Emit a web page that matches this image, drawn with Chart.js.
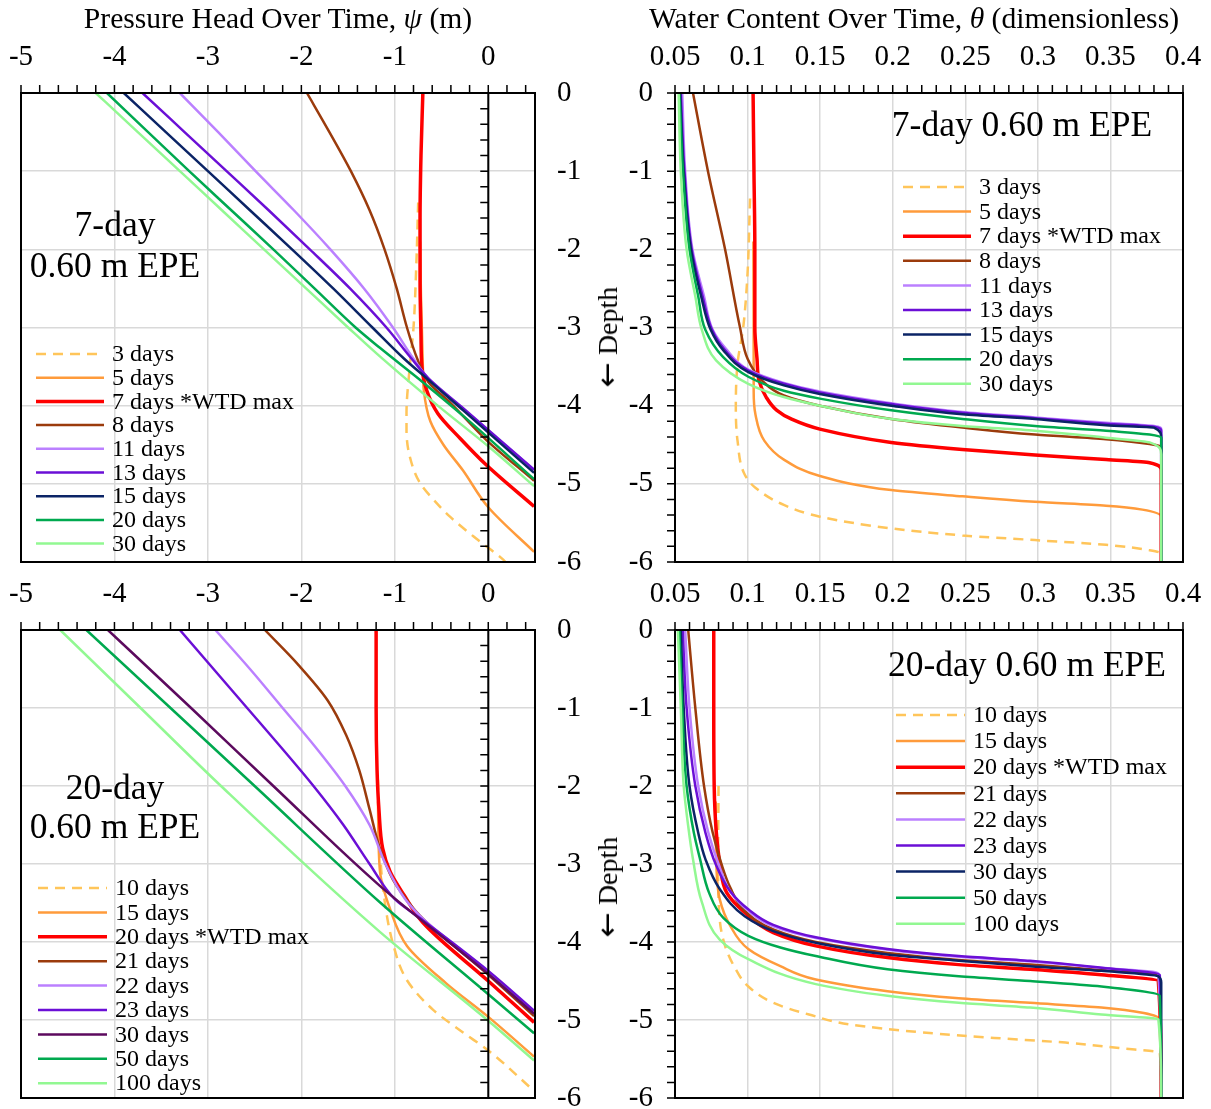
<!DOCTYPE html>
<html>
<head>
<meta charset="utf-8">
<script src="https://cdn.jsdelivr.net/npm/chart.js@4.4.1/dist/chart.umd.min.js"></script>
<style>
  body { margin: 0; background: #fff; }
  #page { position: relative; width: 1211px; height: 1109px; overflow: hidden;
          font-family: "Liberation Serif", "Times New Roman", serif; color: #000; }
  canvas { position: absolute; }
  .t { position: absolute; white-space: nowrap; line-height: 1; transform: translate(-50%, -50%); }
  .ttl { font-size: 29.6px; }
  .note { font-size: 35.5px; }
  .depth { font-size: 28px; transform: translate(-50%, -50%) rotate(-90deg); }
  .arrow { font-family: "DejaVu Sans", sans-serif; font-size: 30px; }
</style>
</head>
<body>
<div id="page">
  <canvas id="headTop" width="600" height="585" style="left:0;top:0"></canvas>
  <canvas id="waterTop" width="611" height="585" style="left:600px;top:0"></canvas>
  <canvas id="headBot" width="600" height="556" style="left:0;top:565px"></canvas>
  <canvas id="waterBot" width="611" height="556" style="left:600px;top:565px"></canvas>

  <div class="t ttl" style="left:278px;top:19px">Pressure Head Over Time, <i>ψ</i> (m)</div>
  <div class="t ttl" style="left:914px;top:19px">Water Content Over Time, <i>θ</i> (dimensionless)</div>
  <div class="t depth" style="left:607px;top:337px"><span class="arrow">←</span> Depth</div>
  <div class="t depth" style="left:607px;top:887px"><span class="arrow">←</span> Depth</div>
  <div class="t note" style="left:115px;top:225px">7-day</div>
  <div class="t note" style="left:115px;top:266px">0.60 m EPE</div>
  <div class="t note" style="left:1022px;top:125px">7-day 0.60 m EPE</div>
  <div class="t note" style="left:115px;top:788px">20-day</div>
  <div class="t note" style="left:115px;top:827px">0.60 m EPE</div>
  <div class="t note" style="left:1027px;top:665px">20-day 0.60 m EPE</div>
</div>
<script>
const serif = '"Liberation Serif", "Times New Roman", serif';

// ---- 7-day event: series names and colours ----
const labels7 = ['3 days', '5 days', '7 days *WTD max', '8 days', '11 days', '13 days', '15 days', '20 days', '30 days'];
const colors7 = ['#ffc55a', '#ff9b3b', '#ff0000', '#9b3b0c', '#bb80ff', '#6b0fd6', '#0b2466', '#00a94f', '#92f892'];

// pressure head profiles, [psi (m), depth (m)]
const head7_3 = [[-0.75,-1.4],[-0.77,-2.2],[-0.80,-3.0],[-0.84,-3.5],[-0.875,-4.1],[-0.875,-4.31],[-0.84,-4.65],[-0.73,-4.99],[-0.55,-5.25],[-0.41,-5.42],[-0.13,-5.70],[0.16,-5.97],[0.2,-6.02]];
const head7_5 = [[-0.73,-1.9],[-0.72,-2.6],[-0.71,-3.03],[-0.70,-3.5],[-0.69,-3.8],[-0.62,-4.2],[-0.48,-4.5],[-0.27,-4.83],[0,-5.3],[0.49,-5.87]];
const head7_7 = [[-0.70,0],[-0.72,-0.8],[-0.73,-1.6],[-0.73,-2.4],[-0.72,-3.1],[-0.71,-3.5],[-0.66,-3.8],[-0.54,-4.1],[-0.30,-4.42],[-0.02,-4.76],[0.49,-5.29]];
const head7_8 = [[-1.94,0],[-1.70,-0.5],[-1.47,-1.0],[-1.27,-1.5],[-1.11,-2.0],[-0.98,-2.5],[-0.87,-3.0],[-0.76,-3.4],[-0.64,-3.7],[-0.40,-3.97],[-0.02,-4.44],[0.49,-4.96]];
const head7_11 = [[-3.30,0],[-2.89,-0.5],[-2.49,-1.0],[-2.08,-1.5],[-1.69,-2.0],[-1.33,-2.5],[-1.02,-3.0],[-0.80,-3.4],[-0.62,-3.68],[-0.25,-4.07],[0.49,-4.82]];
const head7_13 = [[-3.70,0],[-3.25,-0.5],[-2.80,-1.0],[-2.35,-1.5],[-1.91,-2.0],[-1.48,-2.5],[-1.09,-3.0],[-0.82,-3.4],[-0.64,-3.65],[-0.25,-4.05],[0.49,-4.82]];
const head7_15 = [[-3.90,0],[-3.45,-0.5],[-3.00,-1.0],[-2.55,-1.5],[-2.10,-2.0],[-1.66,-2.5],[-1.24,-3.0],[-0.90,-3.4],[-0.65,-3.66],[-0.25,-4.08],[0.49,-4.86]];
const head7_20 = [[-4.08,0],[-3.64,-0.5],[-3.20,-1.0],[-2.75,-1.5],[-2.30,-2.0],[-1.86,-2.5],[-1.42,-3.0],[-1.16,-3.26],[-0.70,-3.70],[-0.25,-4.15],[0.49,-4.94]];
const head7_30 = [[-4.20,0],[-3.75,-0.5],[-3.30,-1.0],[-2.85,-1.5],[-2.40,-2.0],[-1.95,-2.5],[-1.50,-3.0],[-1.16,-3.37],[-0.55,-3.99],[0,-4.52],[0.49,-5.03]];

// water content profiles, [theta, depth (m)]
const water7_3 = [[0.1017,-1.35],[0.100,-2.3],[0.097,-3.0],[0.0931,-3.46],[0.0919,-4.02],[0.0931,-4.45],[0.098,-4.88],[0.1054,-5.05],[0.125,-5.27],[0.1498,-5.42],[0.199,-5.57],[0.248,-5.66],[0.298,-5.72],[0.347,-5.78],[0.377,-5.85],[0.385,-5.89],[0.385,-6]];
const water7_5 = [[0.104,-1.9],[0.1042,-3.0],[0.1042,-3.81],[0.1054,-4.11],[0.1116,-4.45],[0.125,-4.69],[0.1498,-4.90],[0.199,-5.08],[0.248,-5.16],[0.298,-5.23],[0.347,-5.28],[0.372,-5.33],[0.385,-5.42],[0.385,-6]];
const water7_7 = [[0.1038,0],[0.1044,-1],[0.105,-2],[0.105,-3],[0.1065,-3.4],[0.1079,-3.68],[0.1128,-3.89],[0.1202,-4.06],[0.130,-4.17],[0.1498,-4.30],[0.199,-4.47],[0.248,-4.56],[0.298,-4.63],[0.347,-4.69],[0.377,-4.73],[0.385,-4.83],[0.385,-6]];
const water7_8 = [[0.0624,0],[0.0727,-1],[0.0845,-2],[0.0948,-3],[0.100,-3.4],[0.110,-3.68],[0.125,-3.87],[0.1498,-4.0],[0.199,-4.17],[0.248,-4.28],[0.298,-4.37],[0.347,-4.43],[0.377,-4.49],[0.385,-4.52],[0.385,-6]];
const water7_11 = [[0.055,0],[0.057,-1],[0.062,-2],[0.070,-2.6],[0.076,-3.03],[0.085,-3.27],[0.1005,-3.54],[0.125,-3.71],[0.1498,-3.82],[0.199,-3.97],[0.248,-4.08],[0.298,-4.15],[0.347,-4.22],[0.380,-4.26],[0.385,-4.3],[0.385,-6]];
const water7_13 = [[0.054,0],[0.0565,-1],[0.0615,-2],[0.069,-2.6],[0.0755,-3.03],[0.084,-3.28],[0.1005,-3.55],[0.125,-3.72],[0.1498,-3.83],[0.199,-3.98],[0.248,-4.09],[0.298,-4.16],[0.347,-4.23],[0.380,-4.27],[0.385,-4.32],[0.385,-6]];
const water7_15 = [[0.0535,0],[0.056,-1],[0.061,-2],[0.068,-2.6],[0.0746,-3.03],[0.0832,-3.29],[0.1005,-3.57],[0.125,-3.74],[0.1498,-3.85],[0.199,-4.0],[0.248,-4.11],[0.298,-4.17],[0.347,-4.25],[0.380,-4.28],[0.385,-4.41],[0.385,-6]];
const water7_20 = [[0.053,0],[0.0555,-1],[0.060,-2],[0.066,-2.6],[0.0709,-3.03],[0.0832,-3.38],[0.1005,-3.63],[0.125,-3.81],[0.1498,-3.91],[0.199,-4.06],[0.248,-4.17],[0.298,-4.26],[0.347,-4.32],[0.377,-4.37],[0.385,-4.41],[0.385,-6]];
const water7_30 = [[0.0525,0],[0.054,-1],[0.058,-2],[0.064,-2.6],[0.0685,-3.03],[0.0783,-3.42],[0.1005,-3.72],[0.125,-3.89],[0.1498,-4.0],[0.199,-4.17],[0.248,-4.26],[0.298,-4.32],[0.347,-4.41],[0.377,-4.47],[0.385,-4.62],[0.385,-6]];

// ---- 20-day event ----
const labels20 = ['10 days', '15 days', '20 days *WTD max', '21 days', '22 days', '23 days', '30 days', '50 days', '100 days'];
const colorsHead20 = ['#ffc55a', '#ff9b3b', '#ff0000', '#9b3b0c', '#bb80ff', '#6b0fd6', '#5c0a5e', '#00a94f', '#92f892'];
const colorsWater20 = ['#ffc55a', '#ff9b3b', '#ff0000', '#9b3b0c', '#bb80ff', '#6b0fd6', '#0b2466', '#00a94f', '#92f892'];

const head20_10 = [[-1.18,-1.92],[-1.17,-2.5],[-1.15,-3.0],[-1.12,-3.38],[-1.02,-4.02],[-0.87,-4.49],[-0.59,-4.87],[-0.27,-5.16],[0,-5.39],[0.49,-5.91]];
const head20_15 = [[-1.18,-2.2],[-1.16,-3.08],[-1.05,-3.58],[-0.87,-4.05],[-0.45,-4.53],[0,-4.96],[0.49,-5.47]];
const head20_20 = [[-1.20,0],[-1.20,-1.0],[-1.19,-1.8],[-1.17,-2.3],[-1.13,-2.8],[-1.05,-3.1],[-0.90,-3.4],[-0.70,-3.75],[0,-4.50],[0.49,-5.03]];
const head20_21 = [[-2.39,0],[-2.03,-0.45],[-1.72,-0.9],[-1.52,-1.35],[-1.38,-1.8],[-1.27,-2.3],[-1.16,-2.8],[-1.02,-3.2],[-0.86,-3.48],[-0.70,-3.70],[0,-4.42],[0.49,-4.95]];
const head20_22 = [[-2.92,0],[-2.55,-0.5],[-2.20,-1.0],[-1.85,-1.5],[-1.53,-2.0],[-1.27,-2.5],[-1.10,-3.0],[-0.89,-3.45],[-0.70,-3.70],[0,-4.38],[0.49,-4.90]];
const head20_23 = [[-3.30,0],[-2.94,-0.5],[-2.58,-1.0],[-2.22,-1.5],[-1.87,-2.0],[-1.55,-2.5],[-1.27,-3.0],[-1.00,-3.45],[-0.70,-3.72],[0,-4.37],[0.49,-4.88]];
const head20_30 = [[-4.07,0],[-3.18,-1.0],[-2.30,-2.0],[-1.16,-3.28],[0,-4.41],[0.49,-4.92]];
const head20_50 = [[-4.30,0],[-3.40,-1.0],[-2.50,-2.0],[-1.16,-3.49],[0,-4.67],[0.49,-5.17]];
const head20_100 = [[-4.58,0],[-3.72,-1.0],[-2.86,-2.0],[-1.16,-3.87],[0,-5.01],[0.49,-5.52]];

const water20_10 = [[0.080,-2.0],[0.0797,-3.0],[0.0808,-3.71],[0.0845,-4.05],[0.0907,-4.31],[0.1005,-4.57],[0.1177,-4.78],[0.1423,-4.93],[0.1718,-5.06],[0.221,-5.16],[0.270,-5.23],[0.319,-5.29],[0.356,-5.36],[0.384,-5.42],[0.385,-6]];
const water20_15 = [[0.078,-2.2],[0.0785,-3.0],[0.0808,-3.45],[0.088,-3.79],[0.1005,-4.09],[0.1226,-4.31],[0.147,-4.48],[0.1964,-4.63],[0.2455,-4.72],[0.2947,-4.78],[0.3438,-4.84],[0.373,-4.91],[0.384,-4.99],[0.385,-6]];
const water20_20 = [[0.0767,0],[0.0767,-1],[0.077,-2],[0.0785,-2.6],[0.081,-3.0],[0.0857,-3.37],[0.098,-3.62],[0.1177,-3.88],[0.147,-4.05],[0.1964,-4.20],[0.2455,-4.29],[0.2947,-4.35],[0.3438,-4.42],[0.383,-4.50],[0.385,-6]];
const water20_21 = [[0.0591,0],[0.064,-1],[0.070,-2],[0.076,-2.6],[0.082,-3.0],[0.088,-3.3],[0.098,-3.6],[0.1177,-3.84],[0.147,-4.0],[0.1964,-4.14],[0.2455,-4.23],[0.2947,-4.29],[0.3438,-4.36],[0.383,-4.43],[0.385,-6]];
const water20_22 = [[0.057,0],[0.060,-1],[0.066,-2],[0.073,-2.6],[0.080,-3.0],[0.088,-3.35],[0.1005,-3.6],[0.1177,-3.8],[0.147,-3.95],[0.1964,-4.1],[0.2455,-4.19],[0.2947,-4.25],[0.3438,-4.33],[0.383,-4.40],[0.385,-6]];
const water20_23 = [[0.0553,0],[0.058,-1],[0.064,-2],[0.071,-2.6],[0.078,-3.0],[0.088,-3.35],[0.1005,-3.58],[0.1177,-3.78],[0.147,-3.94],[0.1964,-4.09],[0.2455,-4.18],[0.2947,-4.24],[0.3438,-4.33],[0.384,-4.42],[0.385,-6]];
const water20_30 = [[0.054,0],[0.056,-1],[0.060,-2],[0.066,-2.6],[0.071,-2.94],[0.0808,-3.32],[0.098,-3.67],[0.1177,-3.86],[0.147,-4.01],[0.1964,-4.16],[0.2455,-4.24],[0.2947,-4.31],[0.3438,-4.37],[0.383,-4.44],[0.385,-4.52],[0.385,-6]];
const water20_50 = [[0.053,0],[0.055,-1],[0.058,-2],[0.063,-2.6],[0.0673,-2.94],[0.0735,-3.37],[0.0833,-3.69],[0.1005,-3.92],[0.1226,-4.07],[0.147,-4.18],[0.1964,-4.35],[0.2455,-4.44],[0.2947,-4.50],[0.3438,-4.57],[0.384,-4.69],[0.385,-6]];
const water20_100 = [[0.052,0],[0.054,-1],[0.056,-2],[0.059,-2.5],[0.0624,-2.94],[0.0685,-3.49],[0.0808,-3.97],[0.1005,-4.22],[0.147,-4.54],[0.1964,-4.69],[0.2455,-4.78],[0.2947,-4.84],[0.3438,-4.93],[0.383,-4.99],[0.385,-6]];

// frame, top tick marks and the depth axis with its minor ticks
const frame = {
  id: 'frame',
  afterDraw(chart, args, o) {
    const { ctx, chartArea: a, scales: { x, y } } = chart;
    ctx.save();
    ctx.strokeStyle = '#000';
    ctx.lineWidth = 1.5;
    ctx.beginPath();
    for (let i = 0; ; i++) {
      const v = x.min + i * o.xMinor;
      if (v > x.max + 1e-9) break;
      const px = x.getPixelForValue(v);
      ctx.moveTo(px, a.top);
      ctx.lineTo(px, a.top - 8);
    }
    const ax = o.axisAt === undefined ? a.left : x.getPixelForValue(o.axisAt);
    for (let i = 0; i <= 30; i++) {
      const py = y.getPixelForValue(-i * 0.2);
      ctx.moveTo(ax - 8, py);
      ctx.lineTo(ax, py);
    }
    ctx.stroke();
    ctx.lineWidth = 2;
    ctx.beginPath();
    ctx.moveTo(ax, a.top);
    ctx.lineTo(ax, a.bottom);
    ctx.stroke();
    ctx.strokeRect(a.left, a.top, a.width, a.height);
    ctx.restore();
  }
};

// legend drawn inside the plot area, no box
const key = {
  id: 'key',
  afterDatasetsDraw(chart, args, o) {
    const ctx = chart.ctx;
    ctx.save();
    chart.data.datasets.forEach((ds, i) => {
      const yy = o.y + i * o.gap;
      ctx.strokeStyle = ds.borderColor;
      ctx.lineWidth = ds.borderWidth;
      ctx.setLineDash(ds.borderDash);
      ctx.beginPath();
      ctx.moveTo(o.x, yy);
      ctx.lineTo(o.x + o.len, yy);
      ctx.stroke();
      ctx.setLineDash([]);
      ctx.fillStyle = '#000';
      ctx.font = '24px ' + serif;
      ctx.textBaseline = 'middle';
      ctx.fillText(ds.label, o.x + o.len + 8, yy + 1);
    });
    ctx.restore();
  }
};

function makePanel(id, labels, colors, series, cfg) {
  const n = series.length;
  const datasets = series.map((pts, i) => ({
    label: labels[i],
    data: pts.map(p => ({ x: p[0], y: p[1] })),
    showLine: true,
    pointRadius: 0,
    borderColor: colors[i],
    backgroundColor: colors[i],
    borderWidth: i === 2 ? 3.5 : 2.5,
    borderDash: i === 0 ? [10, 7] : [],
    cubicInterpolationMode: 'monotone',
    order: n - i
  }));
  const tickFont = { family: serif, size: 29 };
  return new Chart(document.getElementById(id), {
    type: 'scatter',
    data: { datasets },
    options: {
      indexAxis: 'y',
      responsive: false,
      animation: false,
      devicePixelRatio: 1,
      layout: { padding: cfg.pad, autoPadding: false },
      plugins: {
        legend: { display: false },
        tooltip: { enabled: false },
        frame: { xMinor: cfg.xMinor, axisAt: cfg.axisAt },
        key: cfg.key
      },
      scales: {
        x: {
          type: 'linear', position: 'top', min: cfg.xMin, max: cfg.xMax,
          ticks: { stepSize: cfg.xStep, includeBounds: false, autoSkip: false, maxRotation: 0,
                   padding: 18, color: '#000', font: tickFont,
                   callback: v => String(Math.round(v * 100) / 100) },
          grid: { color: '#d9d9d9', lineWidth: 1.5, drawTicks: false },
          border: { display: false },
          // labels may overhang the plot edges; keep the plot box fixed
          afterFit: s => { s.height = cfg.xH; s.paddingLeft = 0; s.paddingRight = 0; }
        },
        y: {
          type: 'linear', position: cfg.yPos, min: -6, max: 0,
          ticks: { stepSize: 1, padding: 22, color: '#000', font: tickFont, crossAlign: 'near',
                   callback: v => String(v) },
          grid: { color: '#d9d9d9', lineWidth: 1.5, drawTicks: false },
          border: { display: false },
          afterFit: s => { s.width = cfg.yW; s.paddingTop = 0; s.paddingBottom = 0; }
        }
      }
    },
    plugins: [frame, key]
  });
}

const headAxes = { xMin: -5, xMax: 0.5, xStep: 1, xMinor: 0.2, axisAt: 0, yPos: 'right', yW: 65 };
const waterAxes = { xMin: 0.05, xMax: 0.4, xStep: 0.05, xMinor: 0.01, yPos: 'left', yW: 75 };

makePanel('headTop', labels7, colors7,
  [head7_3, head7_5, head7_7, head7_8, head7_11, head7_13, head7_15, head7_20, head7_30],
  Object.assign({}, headAxes, { xH: 93, pad: { left: 21, right: 0, top: 0, bottom: 23 },
    key: { x: 36, y: 354, len: 68, gap: 23.7 } }));

makePanel('waterTop', labels7, colors7,
  [water7_3, water7_5, water7_7, water7_8, water7_11, water7_13, water7_15, water7_20, water7_30],
  Object.assign({}, waterAxes, { xH: 93, pad: { left: 0, right: 28, top: 0, bottom: 23 },
    key: { x: 303, y: 187, len: 68, gap: 24.6 } }));

makePanel('headBot', labels20, colorsHead20,
  [head20_10, head20_15, head20_20, head20_21, head20_22, head20_23, head20_30, head20_50, head20_100],
  Object.assign({}, headAxes, { xH: 65, pad: { left: 21, right: 0, top: 0, bottom: 23 },
    key: { x: 38, y: 323, len: 69, gap: 24.4 } }));

makePanel('waterBot', labels20, colorsWater20,
  [water20_10, water20_15, water20_20, water20_21, water20_22, water20_23, water20_30, water20_50, water20_100],
  Object.assign({}, waterAxes, { xH: 65, pad: { left: 0, right: 28, top: 0, bottom: 23 },
    key: { x: 296, y: 150, len: 69, gap: 26.1 } }));
</script>
</body>
</html>
